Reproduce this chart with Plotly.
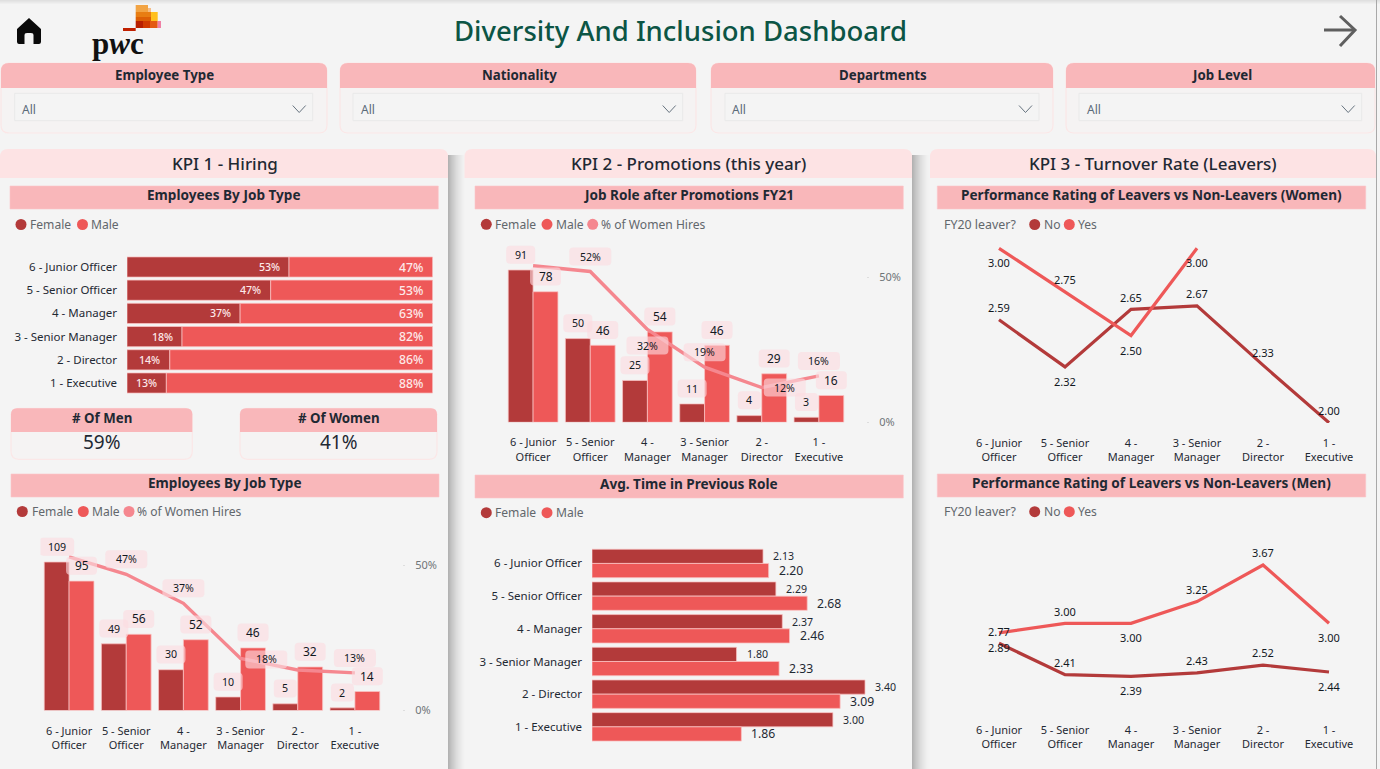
import plotly.graph_objects as go

# ---------- data ----------
job_levels = ["6 - Junior Officer", "5 - Senior Officer", "4 - Manager",
              "3 - Senior Manager", "2 - Director", "1 - Executive"]
job_levels_wrapped = ["6 - Junior<br>Officer", "5 - Senior<br>Officer", "4 -<br>Manager",
                      "3 - Senior<br>Manager", "2 -<br>Director", "1 -<br>Executive"]
hire_female_share = [53, 47, 37, 18, 14, 13]
hire_male_share = [47, 53, 63, 82, 86, 88]
share_men = "59%"
share_women = "41%"
emp_female = [109, 49, 30, 10, 5, 2]
emp_male = [95, 56, 52, 46, 32, 14]
emp_pct = [53, 47, 37, 18, 14, 13]
promo_female = [91, 50, 25, 11, 4, 3]
promo_male = [78, 46, 54, 46, 29, 16]
promo_pct = [54, 52, 32, 19, 12, 16]
time_female = [2.13, 2.29, 2.37, 1.80, 3.40, 3.00]
time_male = [2.20, 2.68, 2.46, 2.33, 3.09, 1.86]
women_no = [2.59, 2.32, 2.65, 2.67, 2.33, 2.00]
women_yes = [3.00, 2.75, 2.50, 3.00]
men_no = [2.77, 2.41, 2.39, 2.43, 2.52, 2.44]
men_yes = [2.89, 3.00, 3.00, 3.25, 3.67, 3.00]
filter_names = ["Employee Type", "Nationality", "Departments", "Job Level"]
filter_value = "All"

# ---------- style ----------
W, H = 1380, 769
FONT = "Noto Sans"
BG = "#f4f4f4"
HEAD = "#fde3e4"
BAND = "#f9b7ba"
DARK = "#b33a3a"
RED = "#ee5858"
PINK = "#f5878f"
INK = "#1f2933"
LEG = "#62676c"
BACK = "rgba(252,220,225,0.62)"
BARLINE = "rgba(250,195,195,0.75)"

shapes, annos = [], []


def fx(x):
    return x / W


def fy(y):
    return 1 - y / H


def rounded(x0, y0, x1, y1, r=(0, 0, 0, 0)):
    tl, tr, br, bl = r
    pts = [f"M{fx(x0 + tl)},{fy(y0)}", f"L{fx(x1 - tr)},{fy(y0)}",
           f"Q{fx(x1)},{fy(y0)} {fx(x1)},{fy(y0 + tr)}", f"L{fx(x1)},{fy(y1 - br)}",
           f"Q{fx(x1)},{fy(y1)} {fx(x1 - br)},{fy(y1)}", f"L{fx(x0 + bl)},{fy(y1)}",
           f"Q{fx(x0)},{fy(y1)} {fx(x0)},{fy(y1 - bl)}", f"L{fx(x0)},{fy(y0 + tl)}",
           f"Q{fx(x0)},{fy(y0)} {fx(x0 + tl)},{fy(y0)}", "Z"]
    return " ".join(pts)


def box(x0, y0, x1, y1, fill, r=(0, 0, 0, 0), line=None, lw=1, layer="below"):
    shapes.append(dict(type="path", path=rounded(x0, y0, x1, y1, r), xref="paper", yref="paper",
                       fillcolor=fill, line=dict(color=line or "rgba(0,0,0,0)", width=lw if line else 0),
                       layer=layer))


def poly(points, fill=None, line=None, lw=0, close=True, layer="below"):
    p = "M" + " L".join(f"{fx(a)},{fy(b)}" for a, b in points) + (" Z" if close else "")
    shapes.append(dict(type="path", path=p, xref="paper", yref="paper",
                       fillcolor=fill or "rgba(0,0,0,0)",
                       line=dict(color=line or "rgba(0,0,0,0)", width=lw), layer=layer))


def dot(x, y, color, r=5.5):
    shapes.append(dict(type="circle", xref="paper", yref="paper", x0=fx(x - r), x1=fx(x + r),
                       y0=fy(y + r), y1=fy(y - r), fillcolor=color, line=dict(width=0), layer="below"))


def text(x, y, s, size=12, color=INK, anchor="center", bold=False, family=FONT, weight=None):
    annos.append(dict(xref="paper", yref="paper", x=fx(x), y=fy(y), text=s, showarrow=False,
                      xanchor=anchor, yanchor="middle", align=anchor,
                      font=dict(family=family, size=size, color=color, weight=weight or (700 if bold else 400)),
                      borderpad=0))


def legend(y, items, lead=None):
    if lead:
        text(lead[0], y, lead[1], 12.4, LEG, "left")
    for cx, tx, name, col in items:
        dot(cx, y, col)
        text(tx, y, name, 12.1, LEG, "left")


def shadow(x0, y0, y1, n=18):
    for i in range(n):
        a = 0.27 * (1 - i / n) ** 1.7
        shapes.append(dict(type="rect", xref="paper", yref="paper", x0=fx(x0 + i), x1=fx(x0 + i + 1),
                           y0=fy(y1), y1=fy(y0), fillcolor=f"rgba(0,0,0,{a:.3f})", line=dict(width=0),
                           layer="below"))


# page frame
for i in range(4):
    shapes.append(dict(type="rect", xref="paper", yref="paper", x0=0, x1=1, y0=fy(i + 1), y1=fy(i),
                       fillcolor=f"rgba(0,0,0,{0.08 - i * 0.02:.2f})", line=dict(width=0), layer="below"))
shapes.append(dict(type="line", xref="paper", yref="paper", x0=fx(1376.5), x1=fx(1376.5), y0=0, y1=1,
                   line=dict(color="#a8a8a8", width=1), layer="below"))

# header
text(680, 31, "Diversity And Inclusion Dashboard", 27.5, "#0c5545", weight=500)
poly([(29, 18), (41, 29), (41, 42), (40.4, 43.4), (39, 44), (33.5, 44), (33.5, 35), (33, 33.6), (31, 33),
      (27, 33), (25, 33.6), (24.5, 35), (24.5, 44), (19, 44), (17.6, 43.4), (17, 42), (17, 29)], fill="#0a0a0a")
poly([(1324, 30), (1354, 30)], line="#5f5f5f", lw=3, close=False)
poly([(1340, 16), (1355, 30), (1340, 46)], line="#5f5f5f", lw=3, close=False)

# pwc mark
for x0, y0, x1, y1, c in [(135.7, 5, 148, 12, "#f2a444"), (148, 8, 151, 12, "#f6bd86"),
                          (151, 12, 157.7, 21, "#ffc01f"), (135.7, 12, 151, 17, "#e87d12"),
                          (135.7, 17, 151, 21, "#dd5f05"), (135.7, 21, 143, 28, "#b81f00"),
                          (143, 21, 150, 28, "#d13a00"), (150, 21, 157.7, 28, "#e35a12"),
                          (157.7, 21, 161, 28, "#ef80a5"), (123, 28, 135.7, 31, "#c02000")]:
    box(x0, y0, x1, y1, c)
text(118, 43.5, "p<i>w</i>c", 31, "#111111", bold=True, family="Liberation Serif")

# filters
filters = [(1, 327, 14.7, 312.7, 21, 164), (340, 696, 353, 682.7, 360, 519),
           (711, 1053, 725, 1039, 731, 883), (1066, 1375, 1079, 1361.7, 1086, 1222)]
for (x0, x1, d0, d1, tx, tc), name in zip(filters, filter_names):
    box(x0, 63, x1, 133, "#f5f3f3", (8, 8, 8, 8), line="#fbe7e7", lw=1.2)
    box(x0, 63, x1, 88, BAND, (8, 8, 0, 0))
    text(tc, 74.6, name, 13.3, INK, bold=True)
    box(d0, 93.3, d1, 120.7, "#f4f4f4", line="#e9e9e9", lw=1)
    text(tx, 109, filter_value, 12, "#5b6b7a", "left")
    cx = d1 - 13.5
    poly([(cx - 6.5, 105.5), (cx, 112.5), (cx + 6.5, 105.5)], line="#66737f", lw=1, close=False)

# KPI cards
shadow(448, 155, 769)
shadow(912, 155, 769)
for x0, x1, t, tc in [(0, 448, "KPI 1 - Hiring", 225), (464.5, 912, "KPI 2 - Promotions (this year)", 688),
                      (930, 1376, "KPI 3 - Turnover Rate (Leavers)", 1153)]:
    box(x0, 149, x1, 769, BG, (8, 8, 0, 0))
    box(x0, 149, x1, 178, HEAD, (8, 8, 0, 0))
    text(tc, 163.5, t, 17, INK, weight=500)

# section bands
for x0, x1, y0, t in [(10, 438.3, 186, "Employees By Job Type"), (11, 439, 474, "Employees By Job Type"),
                      (475, 903.3, 186, "Job Role after Promotions FY21"), (475, 903.3, 475, "Avg. Time in Previous Role"),
                      (937.3, 1365.7, 186, "Performance Rating of Leavers vs Non-Leavers (Women)"),
                      (937.3, 1365.7, 474, "Performance Rating of Leavers vs Non-Leavers (Men)")]:
    box(x0, y0, x1, y0 + 23, BAND, line="#fbc6c9", lw=0.6)
    text((x0 + x1) / 2, y0 + 8.6, t, 13.6, INK, bold=True)

# number cards
for x0, x1, t, v in [(11, 192.3, "# Of Men", share_men), (240, 437, "# Of Women", share_women)]:
    box(x0, 408.3, x1, 459.3, "#f5f3f3", (8, 8, 8, 8), line="#fbe7e7", lw=1.2)
    box(x0, 408.3, x1, 432, BAND, (6, 6, 0, 0))
    text((x0 + x1) / 2, 418, t, 13.3, INK, bold=True)
    text((x0 + x1) / 2, 441.7, v, 19, INK)

# legends
legend(224.5, [(21, 29, "Female", DARK), (82.5, 90, "Male", RED)])
legend(511.5, [(22.3, 30.5, "Female", DARK), (83.3, 91, "Male", RED), (129, 136, "% of Women Hires", PINK)])
legend(224.3, [(486.3, 494, "Female", DARK), (547, 554.7, "Male", RED), (592.7, 600, "% of Women Hires", PINK)])
legend(512.7, [(486.3, 494, "Female", DARK), (547, 554.7, "Male", RED)])
legend(224.5, [(1034.7, 1042.7, "No", DARK), (1069.3, 1076.7, "Yes", RED)], lead=(943.3, "FY20 leaver?"))
legend(511.7, [(1034.7, 1042.7, "No", DARK), (1069.3, 1076.7, "Yes", RED)], lead=(943.3, "FY20 leaver?"))

fig = go.Figure()
axes = {}


def dom_x(a, b):
    return [a / W, b / W]


def dom_y(top, bottom):
    return [1 - bottom / H, 1 - top / H]


def tagged(xr, yr, x, y, s, size, width, dx=0, dy=-15.3):
    """label with a rounded backdrop, anchored on data coordinates"""
    r, hw, hh = 4, width / 2, 9
    cx, cy = dx, -dy
    path = (f"M{cx - hw + r},{cy + hh} L{cx + hw - r},{cy + hh} Q{cx + hw},{cy + hh} {cx + hw},{cy + hh - r} "
            f"L{cx + hw},{cy - hh + r} Q{cx + hw},{cy - hh} {cx + hw - r},{cy - hh} L{cx - hw + r},{cy - hh} "
            f"Q{cx - hw},{cy - hh} {cx - hw},{cy - hh + r} L{cx - hw},{cy + hh - r} Q{cx - hw},{cy + hh} {cx - hw + r},{cy + hh} Z")
    shapes.append(dict(type="path", path=path, xref=xr, yref=yr, xsizemode="pixel", ysizemode="pixel",
                       xanchor=x, yanchor=y, fillcolor=BACK, line=dict(width=0), layer="above"))
    annos.append(dict(xref=xr, yref=yr, x=x, y=y, text=s, showarrow=False, xshift=dx, yshift=-dy,
                      xanchor="center", yanchor="middle", font=dict(family=FONT, size=size, color="#12181f")))


def tick_font(size=11):
    return dict(family=FONT, size=size, color=INK)


# chart 1 : share of hires by level
share_total = [f + m for f, m in zip(hire_female_share, hire_male_share)]
share_f = [100 * f / t for f, t in zip(hire_female_share, share_total)]
share_m = [100 * m / t for m, t in zip(hire_male_share, share_total)]
fig.add_bar(y=job_levels, x=share_f, orientation="h", marker=dict(color=DARK, line=dict(color=BARLINE, width=1)),
            offsetgroup="s", xaxis="x", yaxis="y", showlegend=False)
fig.add_bar(y=job_levels, x=share_m, base=share_f, orientation="h", marker=dict(color=RED, line=dict(color=BARLINE, width=1)),
            offsetgroup="s", xaxis="x", yaxis="y", showlegend=False)
axes["xaxis"] = dict(domain=dom_x(127, 432.7), range=[0, 100], visible=False)
axes["yaxis"] = dict(domain=dom_y(255.4, 394.6), range=[5.5, -0.5], anchor="x", tickfont=tick_font(11.5),
                     ticks="", showline=False, showgrid=False, zeroline=False, ticklabelstandoff=9,
                     type="category", categoryorder="array", categoryarray=job_levels)
for i in range(6):
    for xv, lab, size in [(share_f[i], hire_female_share[i], 10.6), (100, hire_male_share[i], 12.2)]:
        annos.append(dict(xref="x", yref="y", x=xv, y=i, text=f"{lab}%", showarrow=False, xanchor="right",
                          xshift=-7.5, font=dict(family=FONT, size=size, color="#fde9e9", weight=500)))


def columns(xa, ya, yb, x0, x1, ytop, ybase, unit_px, fem, male, pct, overrides, tick_x):
    xn, yn, yn2 = f"x{xa}", f"y{ya}", f"y{yb}"
    fig.add_bar(x=job_levels, y=fem, marker=dict(color=DARK, line=dict(color=BARLINE, width=1)),
                xaxis=xn, yaxis=yn, showlegend=False, offsetgroup="f")
    fig.add_bar(x=job_levels, y=male, marker=dict(color=RED, line=dict(color=BARLINE, width=1)),
                xaxis=xn, yaxis=yn, showlegend=False, offsetgroup="m")
    fig.add_scatter(x=job_levels, y=pct, mode="lines", line=dict(color=PINK, width=3.4), cliponaxis=False,
                    xaxis=xn, yaxis=yn2, showlegend=False)
    axes[f"xaxis{xa}"] = dict(domain=dom_x(x0, x1), anchor=yn, type="category", categoryorder="array",
                              categoryarray=job_levels, range=[-0.5, 5.5], tickmode="array", tickvals=job_levels,
                              ticktext=job_levels_wrapped, tickfont=tick_font(), ticks="", showgrid=False,
                              zeroline=False, showline=False, ticklabelstandoff=12, tickangle=0)
    axes[f"yaxis{ya}"] = dict(domain=dom_y(ytop, ybase), range=[0, (ybase - ytop) / unit_px], anchor=xn,
                              visible=False)
    axes[f"yaxis{yb}"] = dict(domain=dom_y(ytop, ybase), range=[0, (ybase - ytop) / 2.9], overlaying=yn,
                              side="right", anchor="free", position=tick_x / W, tickmode="array",
                              tickvals=[0, 50], ticktext=["0%", "50%"], showgrid=False, zeroline=False,
                              showline=False, ticks="outside", ticklen=2, tickcolor="#dddddd",
                              ticklabelstandoff=8, tickfont=dict(family=FONT, size=11, color="#6f7478"))
    off = 0.2175
    fw = {1: 23, 2: 29, 3: 35}
    for i in range(6):
        tagged(xn, yn, i - off, fem[i], str(fem[i]), 10.6, fw[len(str(fem[i]))])
        tagged(xn, yn, i + off, male[i], str(male[i]), 12, 31 if male[i] > 9 else 24)
        if i in overrides and overrides[i] is None:
            continue
        dx, dy = overrides.get(i, (0, -15))
        tagged(xn, yn2, i, pct[i], f"{pct[i]}%", 10.6, 42, dx, dy)


columns(2, 2, 3, 40.5, 383.5, 530, 710.6, 1.363, emp_female, emp_male, emp_pct,
        {0: None, 4: None, 3: (25.7, 1)}, 402)
columns(3, 4, 5, 504.5, 847.5, 240, 422.3, 1.674, promo_female, promo_male, promo_pct,
        {0: None, 2: (0, 16), 4: (23, 0)}, 866)

# chart : average time in previous role
fig.add_bar(y=job_levels, x=time_female, orientation="h", marker=dict(color=DARK, line=dict(color=BARLINE, width=1)),
            xaxis="x4", yaxis="y6", showlegend=False, offsetgroup="f")
fig.add_bar(y=job_levels, x=time_male, orientation="h", marker=dict(color=RED, line=dict(color=BARLINE, width=1)),
            xaxis="x4", yaxis="y6", showlegend=False, offsetgroup="m")
axes["xaxis4"] = dict(domain=dom_x(592, 900), range=[0, 308 / 80.3], anchor="y6", visible=False)
axes["yaxis6"] = dict(domain=dom_y(547.1, 743.2), range=[5.5, -0.5], anchor="x4", type="category",
                      categoryorder="array", categoryarray=job_levels, tickfont=tick_font(11.5), ticks="",
                      showgrid=False, zeroline=False, showline=False, ticklabelstandoff=9)
for i in range(6):
    annos.append(dict(xref="x4", yref="y6", x=time_female[i], y=i - 0.2175, text=f"{time_female[i]:.2f}", showarrow=False,
                      xanchor="left", xshift=8, font=dict(family=FONT, size=10.6, color=INK)))
    annos.append(dict(xref="x4", yref="y6", x=time_male[i], y=i + 0.2175, text=f"{time_male[i]:.2f}", showarrow=False,
                      xanchor="left", xshift=8, font=dict(family=FONT, size=12.2, color=INK)))


def lines(xa, ya, ytop, ybase, v_top, px_top, ppu, no, yes, no_pos, yes_pos):
    xn, yn = f"x{xa}", f"y{ya}"
    fig.add_scatter(x=job_levels, y=no, mode="lines", line=dict(color=DARK, width=3.2), cliponaxis=False,
                    xaxis=xn, yaxis=yn, showlegend=False)
    fig.add_scatter(x=job_levels[:len(yes)], y=yes, mode="lines", line=dict(color=RED, width=3.2), cliponaxis=False,
                    xaxis=xn, yaxis=yn, showlegend=False)
    lo = v_top - (ybase - px_top) / ppu
    hi = v_top + (px_top - ytop) / ppu
    axes[f"xaxis{xa}"] = dict(domain=dom_x(966, 1362), anchor=yn, type="category", categoryorder="array",
                              categoryarray=job_levels, range=[-0.5, 5.5], tickmode="array", tickvals=job_levels,
                              ticktext=job_levels_wrapped, tickfont=tick_font(), ticks="", showgrid=False,
                              zeroline=False, showline=False, ticklabelstandoff=12, tickangle=0)
    axes[f"yaxis{ya}"] = dict(domain=dom_y(ytop, ybase), range=[lo, hi], anchor=xn, visible=False)
    for vals, pos in ((no, no_pos), (yes, yes_pos)):
        for i, v in enumerate(vals):
            annos.append(dict(xref=xn, yref=yn, x=i, y=v, text=f"{v:.2f}", showarrow=False,
                              yshift=12.3 if pos[i] > 0 else -14.5,
                              font=dict(family=FONT, size=11, color="#12181f")))


lines(5, 7, 235, 423, 3.0, 248.3, 174.4, women_no, women_yes, [1, -1, 1, 1, 1, 1], [-1, 1, -1, -1])
lines(6, 8, 540, 710, 3.0, 623.3, 87, men_no, men_yes, [1, 1, -1, 1, 1, -1], [-1, 1, -1, 1, 1, -1])

fig.update_layout(width=W, height=H, autosize=False, margin=dict(l=0, r=0, t=0, b=0, autoexpand=False),
                  paper_bgcolor=BG, plot_bgcolor="rgba(0,0,0,0)", barmode="group", bargap=0.13, bargroupgap=0,
                  shapes=shapes, annotations=annos, showlegend=False, font=dict(family=FONT),
                  hovermode=False, **axes)
fig.write_html("out.html", config=dict(displayModeBar=False),
               post_script="document.body.style.margin='0';document.documentElement.style.overflow='hidden';")
